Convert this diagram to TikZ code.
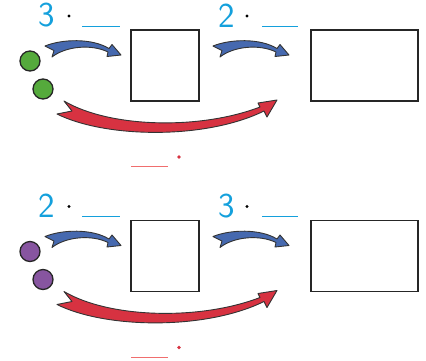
\documentclass[tikz,border=0pt]{standalone}
\usepackage{tikz}
\usetikzlibrary{positioning}

\definecolor{numblue}{RGB}{20,160,220}
\definecolor{arrblue}{RGB}{70,105,175}
\definecolor{arrred}{RGB}{215,50,65}
\definecolor{blankred}{RGB}{240,110,110}
\definecolor{ballgreen}{RGB}{85,170,60}
\definecolor{ballpurple}{RGB}{135,85,160}

\tikzset{
  box/.style={draw=black!85, line width=1.7pt, inner sep=0pt},
  ball/.style={circle, draw=black!85, line width=1.3pt, minimum size=20pt, inner sep=0pt},
  factor/.style={text=numblue, font=\fontsize{35}{35}\selectfont\sffamily, inner sep=0pt},
  multdot/.style={circle, fill=black, minimum size=3.2pt, inner sep=0pt},
  blank/.style={numblue, line width=0.9pt},
  outline/.style={draw=black!80, line width=0.9pt, line join=round},
  pics/bluearrow/.style={code={
    \path[outline, fill=arrblue] (45,46) .. controls (62,39) and (92,38) .. (109,48.5)
      -- (112,44.5) -- (121,55) -- (107,56.5) -- (108,52)
      .. controls (92,44) and (66,46) .. (52,57) -- (54,50.5) -- cycle;
  }},
  pics/redarrow/.style={code={
    \path[outline, fill=arrred] (64,101) .. controls (110,128) and (200,130) .. (260,107)
      -- (258,103) -- (277,100) -- (267,117) -- (264,111)
      .. controls (205,140) and (105,138) .. (57,114) -- (72,111) -- cycle;
  }}
}

\begin{document}
\begin{tikzpicture}[x=1pt, y=-1pt]
  \useasboundingbox (0,0) rectangle (426,360);

  % two rows: shift, first factor, second factor, colour of the balls
  \foreach \dy/\fa/\fb/\col in {0/3/2/ballgreen, 190.5/2/3/ballpurple}{
    \begin{scope}[yshift=-\dy pt]
      % counters
      \node[ball, fill=\col] (ballA) at (30,61) {};
      \node[ball, fill=\col] (ballB) at (43,89) {};

      % boxes
      \node[box, minimum width=68pt, minimum height=71pt] (sq) at (165,65.5) {};
      \node[box, minimum width=107pt, minimum height=71pt] (rect) at (364.5,65.5) {};

      % first factor
      \node[factor] (fa) at (47,15.5) {\fa};
      \node[multdot] (da) at (69,16) {};
      \draw[blank] (82,26) -- (120,26);

      % second factor
      \node[factor] (fb) at (227,15.5) {\fb};
      \node[multdot] (db) at (247,16) {};
      \draw[blank] (262,26) -- (298,26);

      % arrows
      \pic at (0,0) {bluearrow};
      \pic at (168,0) {bluearrow};
      \pic at (0,0) {redarrow};

      % product blank
      \draw[blankred, line width=0.9pt] (131,166.5) -- (168,166.5);
      \node[multdot, fill=arrred, minimum size=3.6pt] (dc) at (179,157) {};
    \end{scope}
  }
\end{tikzpicture}
\end{document}
